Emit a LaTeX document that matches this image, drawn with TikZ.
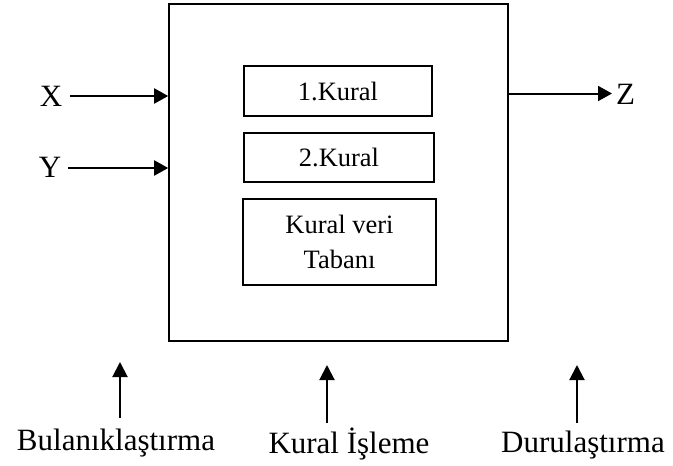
\documentclass[tikz,border=0pt]{standalone}
\usepackage{fontspec}
\setmainfont{Liberation Serif}
\usetikzlibrary{arrows.meta}
\begin{document}
\begin{tikzpicture}[x=1pt,y=-1pt,
  box/.style={draw, line width=1.6pt, inner sep=0pt},
  inbox/.style={draw, line width=1.5pt, inner sep=0pt, font=\fontsize{26.5}{35}\selectfont, align=center},
  lbl/.style={inner sep=0pt, anchor=base, font=\fontsize{31}{36}\selectfont},
  arr/.style={line width=2pt, -{Triangle[length=14pt,width=15pt]}},
  uparr/.style={line width=2pt, -{Triangle[length=15pt,width=15pt]}}]
\useasboundingbox (0,0) rectangle (673,466);
% main box
\node[box, minimum width=339pt, minimum height=337pt] (main) at (338.5,172.5) {};
% inner boxes
\node[inbox, minimum width=188pt, minimum height=50pt] (k1) at (338,91) {1.Kural};
\node[inbox, minimum width=190pt, minimum height=49pt] (k2) at (339,157.5) {2.Kural};
\node[inbox, minimum width=193pt, minimum height=86pt] (kv) at (339.5,242) {Kural veri\\Tabanı};
% inputs / output
\node[lbl] (X) at (51,106) {X};
\node[lbl] (Y) at (50,177) {Y};
\node[lbl] (Z) at (625.5,104) {Z};
\coordinate (xs) at (70,96);
\coordinate (ys) at (68,168);
\coordinate (zs) at (508,93.5);
\coordinate (ze) at (612,93.5);
\draw[arr] (xs) -- (xs -| main.west);
\draw[arr] (ys) -- (ys -| main.west);
\draw[arr] (zs) -- (ze);
% bottom labels
\node[lbl] (B) at (116,450) {Bulanıklaştırma};
\node[lbl] (K) at (349,453) {Kural İşleme};
\node[lbl] (D) at (583,452) {Durulaştırma};
\coordinate (b1) at (120,418);
\coordinate (b2) at (120,362);
\coordinate (k1s) at (327,423);
\coordinate (k2s) at (327,365);
\coordinate (d1) at (577,423);
\coordinate (d2) at (577,365);
\draw[uparr] (b1) -- (b2);
\draw[uparr] (k1s) -- (k2s);
\draw[uparr] (d1) -- (d2);
\end{tikzpicture}
\end{document}
